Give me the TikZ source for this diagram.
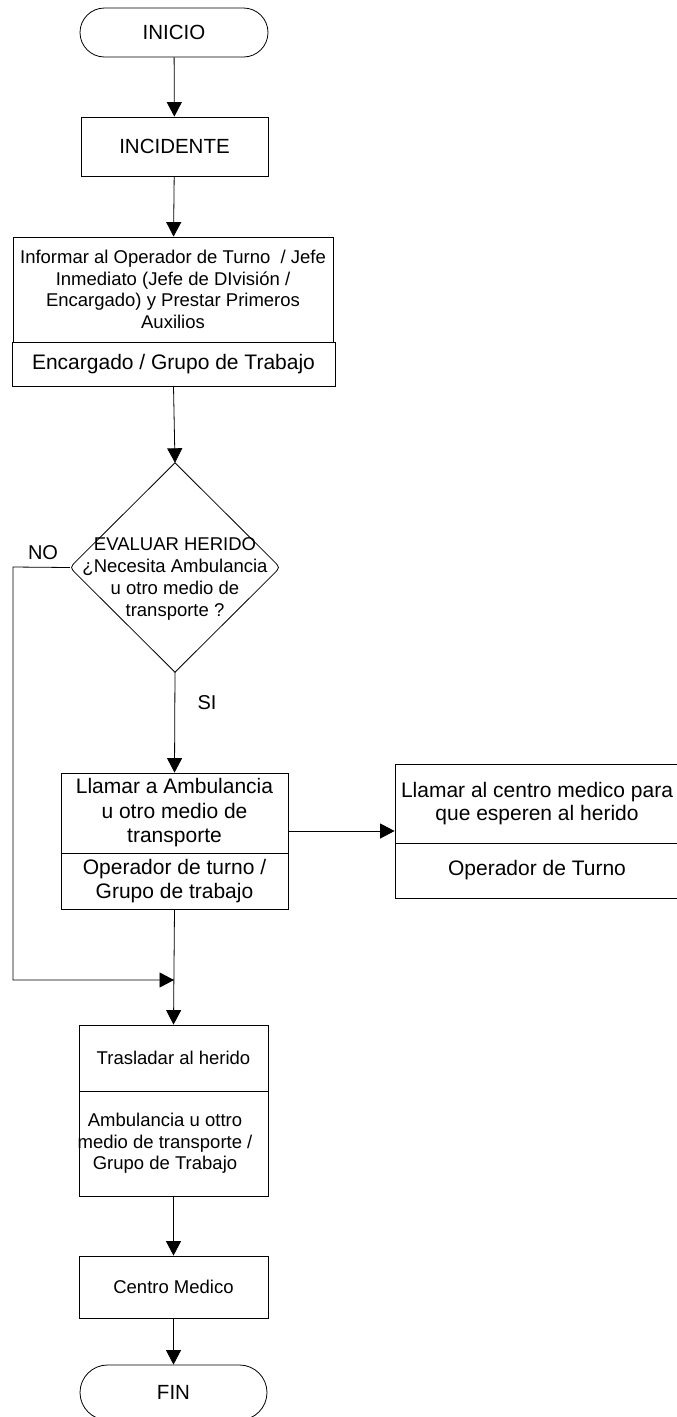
\documentclass[tikz,border=0pt]{standalone}
\usepackage{fontspec}
\setmainfont{Liberation Sans}
\usetikzlibrary{arrows.meta,shapes.misc,calc}
\begin{document}
\begin{tikzpicture}[x=1pt,y=-1pt,
  line/.style={draw=black, line width=0.8pt},
  arr/.style={line, -{Triangle[length=14.5pt,width=15pt]}},
  box/.style={draw=black, line width=0.8pt, inner sep=0pt, align=center},
  term/.style={draw=black, rounded rectangle, line width=0.8pt, inner sep=0pt, minimum width=188pt, minimum height=49pt},
  big/.style={font=\fontsize{20.5}{24}\selectfont},
  med/.style={font=\fontsize{21}{24.5}\selectfont},
  sml/.style={font=\fontsize{18.5}{21.7}\selectfont},
  lbl/.style={font=\fontsize{20}{24}\selectfont, inner sep=0pt}
]
\useasboundingbox (0,0) rectangle (677,1417);

% terminators and boxes
\node[term,big] (ini) at (174,32.5) {INICIO};
\node[box,big,minimum width=187pt,minimum height=59pt] (inc) at (174.5,146.5) {INCIDENTE};
\node[box,sml,minimum width=320pt,minimum height=105pt] (inf1) at (173,289.5)
  {Informar al Operador de Turno~ / Jefe\\Inmediato (Jefe de DIvisión /\\Encargado) y Prestar Primeros\\Auxilios};
\node[box,med,minimum width=323pt,minimum height=44pt] (inf2) at (173.5,364) {Encargado / Grupo de Trabajo};

% decision
\node[inner sep=0pt, minimum width=210pt, minimum height=209pt] (dec) at (175,567.5) {};
\draw[line] (dec.north) -- ($(dec.east)!10pt!(dec.north)$) .. controls (dec.east) .. ($(dec.east)!10pt!(dec.south)$)
  -- (dec.south) -- ($(dec.west)!10pt!(dec.south)$) .. controls (dec.west) .. ($(dec.west)!10pt!(dec.north)$) -- cycle;
\node[sml, align=center, inner sep=0pt] (dect) at (175,579)
  {EVALUAR HERIDO\\¿Necesita Ambulancia\\u otro medio de\\transporte ?};

\node[box,med,minimum width=227pt,minimum height=80pt] (ll1) at (174.5,813) {Llamar a Ambulancia\\u otro medio de\\transporte};
\node[box,med,minimum width=227pt,minimum height=56pt] (ll2) at (174.5,881) {Operador de turno /\\Grupo de trabajo};

\node[box,font=\fontsize{21}{23.5}\selectfont,minimum width=284pt,minimum height=79pt] (rc1) at (537,803.5) {Llamar al centro medico para\\que esperen al herido};
\node[box,med,minimum width=284pt,minimum height=55pt] (rc2) at (537,870.5) {Operador de Turno};

\node[box,sml,minimum width=189pt,minimum height=66pt] (tr1) at (173.5,1058) {Trasladar al herido};
\node[box,minimum width=189pt,minimum height=105pt] (tr2) at (173.5,1143.5) {};
\node[sml, align=center, inner sep=0pt] (tr2t) at (165,1143.5) {Ambulancia u ottro\\medio de transporte /\\Grupo de Trabajo};

\node[box,sml,minimum width=189pt,minimum height=62pt] (cm) at (173.5,1287) {Centro Medico};
\node[term,big,minimum width=187pt,minimum height=55pt] (fin) at (173.5,1392.5) {FIN};

% labels
\node[lbl] (no) at (43,553) {NO};
\node[lbl] (si) at (207,703) {SI};

% connectors
\coordinate (nocorner) at (13,567);
\coordinate (j) at (174,980);
\draw[arr] (ini) -- (inc);
\draw[arr] (inc) -- (inf1);
\draw[arr] (inf2.south) -- (dec.north);
\draw[arr] (dec.south) -- (ll1.north);
\draw[arr] ([yshift=-18pt]ll1.east) -- ([yshift=-18pt]ll1.east -| rc1.west);
\draw[arr] (dec.west) -- (nocorner) |- (j);
\draw[arr] (ll2.south) -- (tr1.north);
\draw[arr] (tr2) -- (cm);
\draw[arr] (cm) -- (fin);
\end{tikzpicture}
\end{document}
